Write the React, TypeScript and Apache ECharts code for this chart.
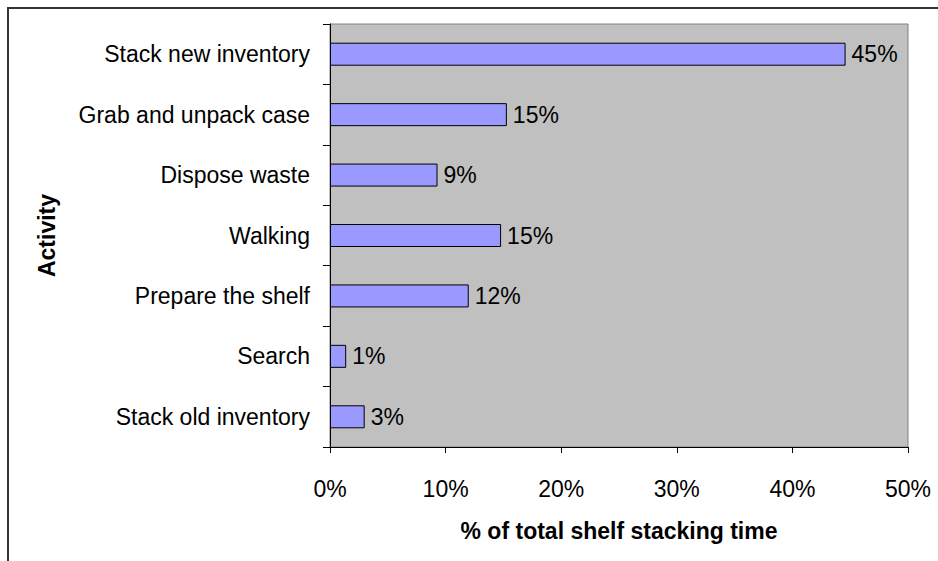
import React, { useEffect, useRef } from "react";
import * as echarts from "echarts";

const categories = [
  "Stack new inventory",
  "Grab and unpack case",
  "Dispose waste",
  "Walking",
  "Prepare the shelf",
  "Search",
  "Stack old inventory",
];
const shares = [44.6, 15.3, 9.3, 14.8, 12.0, 1.4, 3.0];
const xTickMax = 50;
const xTickStep = 10;
const xTitle = "% of total shelf stacking time";
const yTitle = "Activity";

const FONT = "'Liberation Sans', Arial, sans-serif";

export default function App() {
  const ref = useRef<HTMLDivElement>(null);
  useEffect(() => {
    if (!ref.current) return;
    const chart = echarts.init(ref.current, null, { renderer: "svg" });
    chart.setOption({
      animation: false,
      textStyle: { fontFamily: FONT },
      grid: {
        left: 330,
        top: 24,
        right: 30,
        bottom: 114,
        show: true,
        backgroundColor: "#C0C0C0",
        borderColor: "#808080",
        borderWidth: 1,
        containLabel: false,
      },
      xAxis: {
        type: "value",
        min: 0,
        max: xTickMax,
        interval: xTickStep,
        name: xTitle,
        nameLocation: "middle",
        nameGap: 72,
        nameTextStyle: { fontSize: 23, fontWeight: "bold", color: "#000", fontFamily: FONT },
        axisLine: { show: true, lineStyle: { color: "#000", width: 1 } },
        axisTick: { show: true, length: 6, lineStyle: { color: "#000" } },
        axisLabel: { formatter: "{value}%", fontSize: 23, color: "#000", margin: 30, fontFamily: FONT },
        splitLine: { show: false },
      },
      yAxis: {
        type: "category",
        data: categories,
        inverse: true,
        name: yTitle,
        nameLocation: "middle",
        nameGap: 272,
        nameRotate: 90,
        nameTextStyle: { fontSize: 23, fontWeight: "bold", color: "#000", fontFamily: FONT },
        axisLine: { show: true, lineStyle: { color: "#000", width: 1 } },
        axisTick: { show: true, length: 7, alignWithLabel: false, lineStyle: { color: "#000" } },
        axisLabel: { fontSize: 23, color: "#000", margin: 20, fontFamily: FONT },
        splitLine: { show: false },
      },
      series: [
        {
          type: "bar",
          data: shares,
          barWidth: 23,
          itemStyle: { color: "#9999FF", borderColor: "#000", borderWidth: 1 },
          label: {
            show: true,
            position: "right",
            distance: 6,
            fontSize: 23,
            color: "#000",
            fontFamily: FONT,
            formatter: (p: any) => Math.round(p.value) + "%",
          },
        },
      ],
    });
    return () => chart.dispose();
  }, []);
  return (
    <div
      style={{
        position: "fixed",
        left: 0,
        top: 0,
        width: 938,
        height: 561,
        overflow: "hidden",
        background: "#fff",
      }}
    >
      <div
        style={{
          position: "absolute",
          left: 7,
          top: 7,
          width: 1000,
          height: 1000,
          border: "2px solid #333",
          boxSizing: "border-box",
        }}
      />
      <div ref={ref} style={{ position: "absolute", left: 0, top: 0, width: 938, height: 561 }} />
    </div>
  );
}
